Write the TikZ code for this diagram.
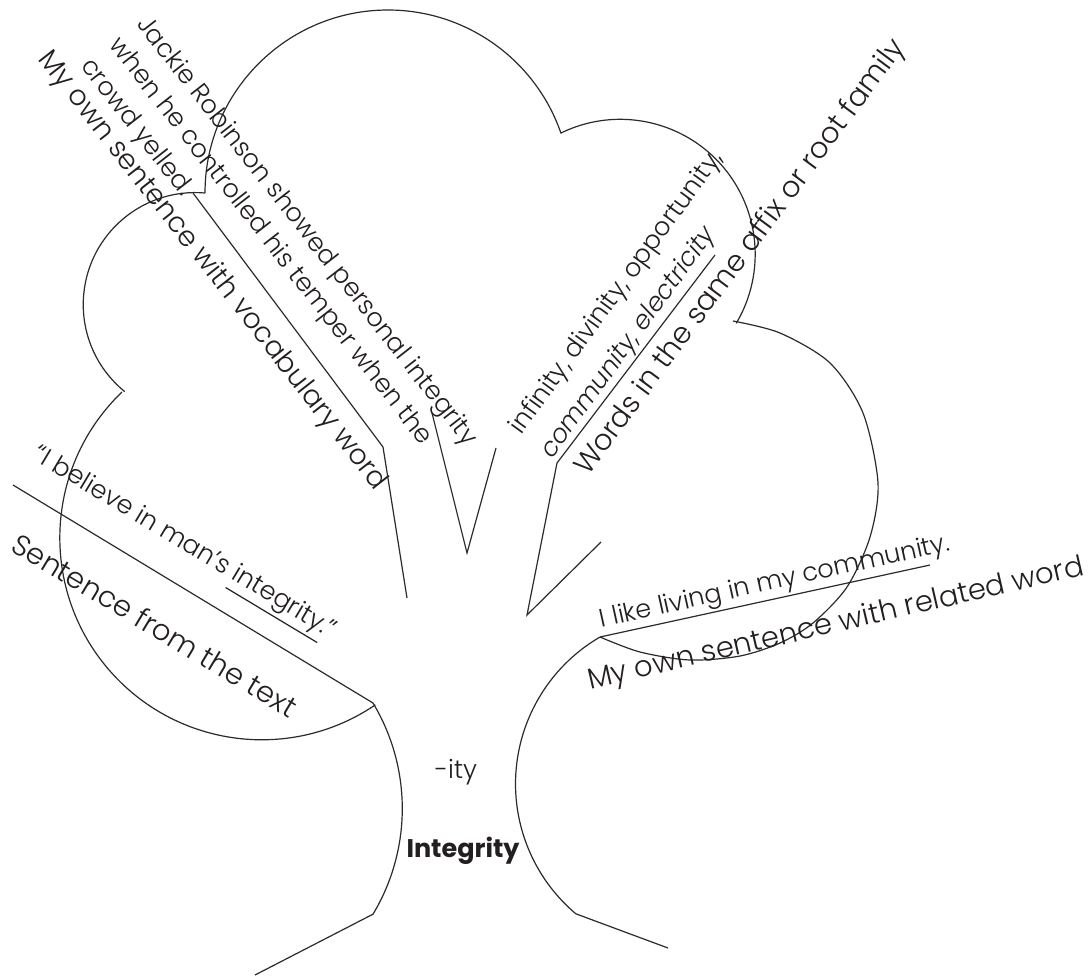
\documentclass[tikz,border=0pt]{standalone}
\usepackage{fontspec}
\IfFontExistsTF{Poppins Light}{%
  \setmainfont{Poppins}[UprightFont={* Light}, ItalicFont={* Light Italic}, BoldFont={* Bold}]%
}{%
  \setmainfont{Poppins}%
}
\definecolor{ink}{HTML}{231F20}
\definecolor{linec}{HTML}{2B2B2B}
\newcommand\thickul[1]{\vtop{\hbox{#1}\kern 3pt\hrule height 1.2pt}}
\begin{document}
\begin{tikzpicture}[x=1pt,y=-1pt,
  outline/.style={draw=linec, line width=1.2pt},
  small/.style={font=\fontsize{25.5}{30}\selectfont, text=ink, inner sep=0pt},
  big/.style={font=\fontsize{29}{34}\selectfont, text=ink, inner sep=0pt}]
\useasboundingbox[fill=white] (0,0) rectangle (1091,975);
% cloud lobes
\draw[outline] (205,193) arc[start angle=180, end angle=341, radius=183];
\draw[outline] (561,133) arc[start angle=244, end angle=390.7, radius=135];
\draw[outline] plot[smooth] coordinates {(733,321) (780,333) (830,363) (863,413) (878,483) (870,537) (847,587) (813,623) (780,643) (740,656) (690,660) (640,652) (600,637)};
\draw[outline] (205,193) arc[start angle=-85, end angle=-231, radius=112];
\draw[outline] (122,392) arc[start angle=226.2, end angle=55.8, radius=202];
% trunk
\coordinate (lc) at (373,703);
\coordinate (rc) at (600,637);
\coordinate (lb) at (255,975);
\coordinate (rb) at (668,948);
\draw[outline] (lc) arc[start angle=-31, end angle=31, radius=205] coordinate (lf) -- (lb);
\draw[outline] (rc) arc[start angle=239.8, end angle=130.2, radius=170] coordinate (rf) -- (rb);
% branches
\coordinate (b1a) at (193,193);
\coordinate (b1b) at (383,447);
\coordinate (b1c) at (407,598);
\draw[outline] (b1a) -- (b1b) -- (b1c);
\coordinate (v1a) at (432,413);
\coordinate (v1b) at (467,553);
\coordinate (v1c) at (496,448);
\draw[outline] (v1a) -- (v1b) -- (v1c);
\coordinate (v2t) at (715,255);
\coordinate (v2a) at (557,463);
\coordinate (v2b) at (527,615);
\coordinate (v2c) at (601,542);
\draw[outline] (v2t) -- (v2a) -- (v2b) -- (v2c);
\coordinate (ll) at (13,485);
\draw[outline] (ll) -- (lc);
\coordinate (rr) at (930,565);
\draw[outline] (rc) -- (rr);
% texts
\node[small, rotate=-52] (jr1) at (306,232) {Jackie Robinson showed personal integrity};
\node[small, rotate=-52] (jr2) at (270,242) {when he controlled his temper when the};
\node[small, rotate=-52] (jr3) at (136,128) {crowd yelled.};
\node[big, font=\fontsize{28}{33}\selectfont, rotate=-52] (vocab) at (212,271) {My own sentence with vocabulary word};
\node[small, rotate=54] (inf) at (617,293) {infinity, divinity, opportunity,};
\node[small, rotate=54] (com) at (629,343) {\itshape community, electricity};
\node[big, rotate=53.5] (fam) at (741,258) {Words in the same affix or root family};
\node[small, rotate=-31] (bel) at (183,545) {“I believe in man’s \thickul{integrity.}”};
\node[big, rotate=-31] (sft) at (155,625) {Sentence from the text};
\node[small, rotate=12.5] (like) at (775,583) {I like living in my community.};
\node[big, rotate=13] (rel) at (836,625) {My own sentence with related word};
\node[small] (ity) at (456,772) {-ity};
\node[small, font=\fontsize{25.5}{30}\selectfont\bfseries] (integ) at (463,851) {Integrity};
\end{tikzpicture}
\end{document}
